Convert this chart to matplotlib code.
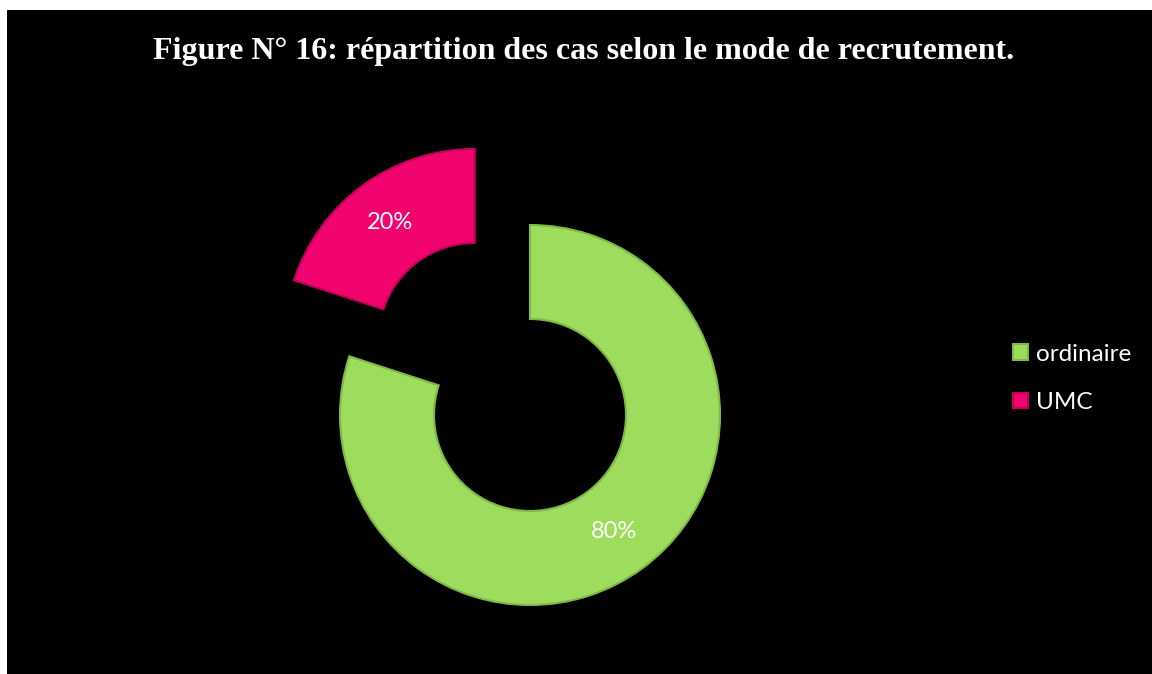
import matplotlib
matplotlib.use("Agg")
import matplotlib.pyplot as plt
from matplotlib.patches import Rectangle

# data
categories = ["ordinaire", "UMC"]
values = [80, 20]
colors = ["#9ddc5c", "#f2046f"]
edge_colors = ["#7fb845", "#c4005a"]

W, H = 1152, 674
fig = plt.figure(figsize=(W / 100, H / 100), dpi=100, facecolor="white")
ax = fig.add_axes([0, 0, 1, 1])

# black chart area (thin white strip left/top like the reference)
ax.add_patch(Rectangle((7, 0), W - 7, H - 10, facecolor="black", edgecolor="none",
                       zorder=0))

R = 190
wedges, texts, autotexts = ax.pie(
    values, radius=R, center=(530, H - 415), startangle=90, counterclock=False,
    explode=[0, 94], colors=colors, autopct="%1.0f%%", pctdistance=0.755,
    wedgeprops=dict(width=R - 96, linewidth=1.5),
    textprops=dict(color="white", fontsize=17, family=["Lato", "DejaVu Sans"]),
)
for w, ec in zip(wedges, edge_colors):
    w.set_edgecolor(ec)
    w.set_zorder(2)
for t in autotexts:
    t.set_zorder(3)

ax.set_xlim(0, W)
ax.set_ylim(0, H)
ax.set_aspect("equal")
ax.axis("off")

ax.text(584, H - 52, "Figure N° 16: répartition des cas selon le mode de recrutement.",
        ha="center", va="center", color="white", fontsize=23, fontweight="bold",
        family=["Liberation Serif", "DejaVu Serif"])

leg = ax.legend(wedges, categories, loc="upper left",
                bbox_to_anchor=(991 / W, 1 - 322 / H), frameon=False,
                labelcolor="white", handlelength=0.62, handleheight=0.62,
                handletextpad=0.35, labelspacing=1.12,
                prop=dict(family=["Lato", "DejaVu Sans"], size=17.5))

fig.savefig("out.png", dpi=100, facecolor=fig.get_facecolor())
